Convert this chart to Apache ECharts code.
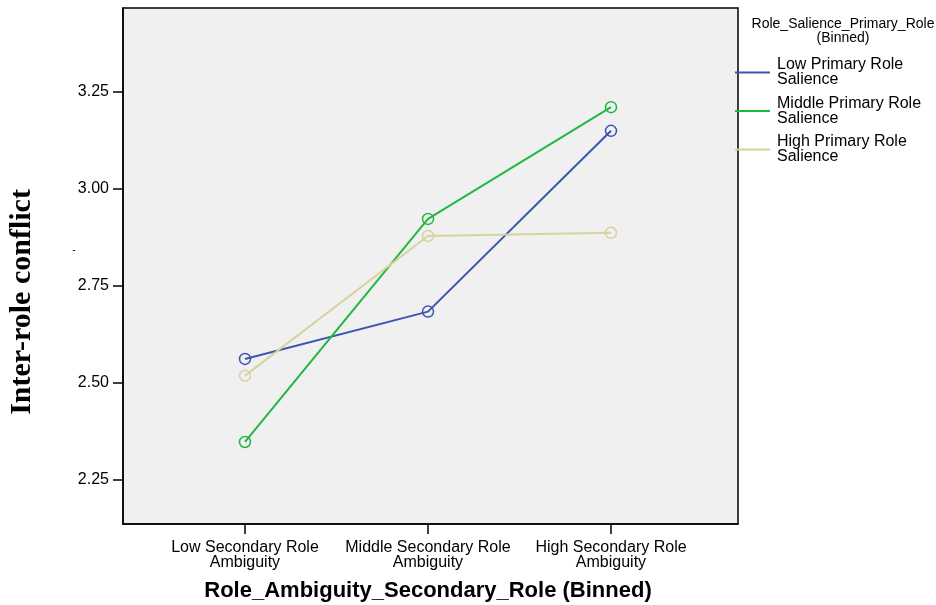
<!DOCTYPE html>
<html>
<head>
<meta charset="utf-8">
<script src="https://cdn.jsdelivr.net/npm/echarts@6/dist/echarts.min.js"></script>
<style>html,body{margin:0;padding:0;background:#fff;}#c{width:936px;height:605px;}</style>
</head>
<body>
<div id="c"></div>
<script>
const categories = ['Low Secondary Role\nAmbiguity', 'Middle Secondary Role\nAmbiguity', 'High Secondary Role\nAmbiguity'];
const categoryPositions = [2, 5, 8];
const lowSalience = [2.562, 2.684, 3.150];
const middleSalience = [2.348, 2.923, 3.211];
const highSalience = [2.519, 2.879, 2.887];
const seriesNames = ['Low Primary Role\nSalience', 'Middle Primary Role\nSalience', 'High Primary Role\nSalience'];
const yTicks = [2.25, 2.5, 2.75, 3.0, 3.25];

const colors = ['#3b55ae', '#22b83f', '#d8d29c'];
const chart = echarts.init(document.getElementById('c'));
function pts(vals){ return vals.map((v,i)=>[categoryPositions[i], v]); }
const allVals = [lowSalience, middleSalience, highSalience];
chart.setOption({
  animation: false,
  grid: {left: 123, top: 8, width: 615, height: 516, show: true, backgroundColor: '#f0f0f0', borderColor: '#000', borderWidth: 1.5},
  xAxis: {
    type: 'value', min: 0, max: 10.082,
    splitLine: {show: false},
    axisLine: {show: true, lineStyle: {color: '#000', width: 1.5}},
    axisTick: {show: true, inside: false, length: 10, customValues: categoryPositions, lineStyle: {color: '#000', width: 1.5}},
    axisLabel: {customValues: categoryPositions, margin: 16, fontSize: 16, lineHeight: 15, color: '#000', fontFamily: 'Liberation Sans',
      formatter: v => { const i = categoryPositions.indexOf(v); return i >= 0 ? categories[i] : ''; }}
  },
  yAxis: {
    type: 'value', min: 2.1366, max: 3.4665,
    splitLine: {show: false},
    axisLine: {show: true, lineStyle: {color: '#000', width: 1.5}},
    axisTick: {show: true, length: 10, customValues: yTicks, lineStyle: {color: '#000', width: 1.5}},
    axisLabel: {customValues: yTicks, margin: 14, fontSize: 16, color: '#000', fontFamily: 'Liberation Sans',
      formatter: v => v.toFixed(2)}
  },
  legend: {
    orient: 'vertical', left: 735, top: 57, padding: 0, itemGap: 7.5,
    itemWidth: 35, itemHeight: 2, icon: 'rect',
    textStyle: {fontSize: 16, lineHeight: 15, color: '#000', fontFamily: 'Liberation Sans', padding: [0,0,0,2]},
    data: seriesNames.map((n, k) => ({name: n, itemStyle: {color: colors[k], borderWidth: 0}}))
  },
  graphic: [
    {type: 'text', x: 843, y: 17, style: {text: 'Role_Salience_Primary_Role\n(Binned)', textAlign: 'center', fontSize: 14, lineHeight: 14, fill: '#000', fontFamily: 'Liberation Sans'}},
    {type: 'text', x: 22, y: 302, rotation: Math.PI/2, style: {text: 'Inter-role conflict', textAlign: 'center', textVerticalAlign: 'middle', fontSize: 30, fontWeight: 'bold', fill: '#000', fontFamily: 'Liberation Serif'}},
    {type: 'text', x: 74, y: 250, style: {text: '-', textAlign: 'center', textVerticalAlign: 'middle', fontSize: 10, fill: '#000', fontFamily: 'Liberation Sans'}},
    {type: 'text', x: 428, y: 591, style: {text: 'Role_Ambiguity_Secondary_Role (Binned)', textAlign: 'center', textVerticalAlign: 'middle', fontSize: 22, fontWeight: 'bold', fill: '#000', fontFamily: 'Liberation Sans'}}
  ],
  series: seriesNames.map((n, k) => ({
    name: n, type: 'line', data: pts(allVals[k]),
    symbol: 'circle', symbolSize: 11,
    lineStyle: {color: colors[k], width: 2},
    itemStyle: {color: 'rgba(0,0,0,0)', borderColor: colors[k], borderWidth: 1.5}
  }))
});
</script>
</body>
</html>
